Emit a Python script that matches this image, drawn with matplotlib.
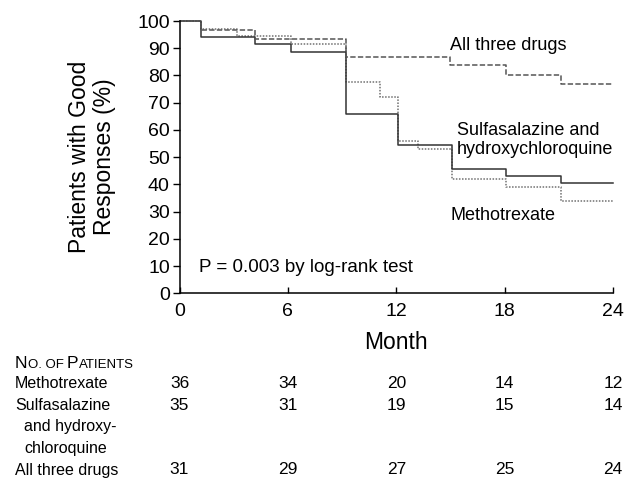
# Kaplan-Meier style curves: patients with good responses by treatment
import numpy as np
from matplotlib import pyplot as plt
from matplotlib import transforms
from matplotlib import font_manager

plt.rcParams["font.family"] = ["Liberation Sans", "DejaVu Sans"]

# ----------------------------------------------------
# Data
# ----------------------------------------------------
mtx_t = [0, 1.2, 3.2, 6.2, 9.2, 11.1, 12.1, 13.2, 15.1, 18.1, 21.1, 24]
mtx_s = [100, 97.2, 94.4, 91.7, 77.7, 72.2, 55.9, 52.9, 41.8, 38.9, 34.0, 34.0]

ssz_t = [0, 1.2, 4.2, 6.2, 9.2, 12.1, 15.1, 18.1, 21.1, 24]
ssz_s = [100, 94.3, 91.6, 88.5, 66.0, 54.4, 45.7, 43.0, 40.5, 40.5]

all_t = [0, 1.2, 4.2, 9.2, 15.0, 18.1, 21.1, 24]
all_s = [100, 96.8, 93.4, 86.7, 84.0, 80.0, 77.0, 77.0]

table_months = [0, 6, 12, 18, 24]
n_mtx = [36, 34, 20, 14, 12]
n_ssz = [35, 31, 19, 15, 14]
n_all = [31, 29, 27, 25, 24]

W, H = 634, 480


def fx(px):
    return px / W


def fy(py):
    return 1 - py / H


# narrow face for the table row labels, if it is there
installed = {f.name for f in font_manager.fontManager.ttflist}
if "Liberation Sans Narrow" in installed:
    row_family, row_size = ["Liberation Sans Narrow"], 13
else:
    row_family, row_size = ["Liberation Sans"], 11.5

# ----------------------------------------------------
# Figure
# ----------------------------------------------------
fig = plt.figure(figsize=(W / 100, H / 100), dpi=100)
ax = fig.add_axes([fx(179.5), fy(293.3), fx(613) - fx(179.5), fy(21) - fy(293.3)])

ax.step(mtx_t, mtx_s, where="post", color="#707070", linestyle=(0, (1, 1)),
        linewidth=1.1, clip_on=False)
ax.step(ssz_t, ssz_s, where="post", color="#333333", linestyle="-",
        linewidth=1.1, clip_on=False)
ax.step(all_t, all_s, where="post", color="#555555", linestyle=(0, (3.5, 1.5)),
        linewidth=1.1, clip_on=False)

ax.set_xlim(0, 24)
ax.set_ylim(0, 100)
ax.set_xticks(table_months)
ax.set_yticks(np.arange(0, 101, 10))
ax.tick_params(axis="y", direction="out", length=5, width=1, pad=2, labelsize=14)
ax.tick_params(axis="x", direction="in", length=4, width=1, pad=7, labelsize=14)
ax.spines["top"].set_visible(False)
ax.spines["right"].set_visible(False)
ax.spines["left"].set_linewidth(1.1)
ax.spines["bottom"].set_linewidth(1.1)

ax.set_xlabel("Month", fontsize=16.5, labelpad=8)
ax.set_ylabel("Patients with Good\nResponses (%)", fontsize=16.5, labelpad=15,
              linespacing=1.15)

# curve labels
fig.text(fx(450), fy(45), "All three drugs", fontsize=13, va="center")
fig.text(fx(457), fy(140), "Sulfasalazine and\nhydroxychloroquine", fontsize=13,
         va="center", linespacing=1.1)
fig.text(fx(450), fy(215), "Methotrexate", fontsize=13, va="center")
fig.text(fx(199), fy(267), "P = 0.003 by log-rank test", fontsize=13.5, va="center")

# ----------------------------------------------------
# Number-at-risk table
# ----------------------------------------------------
renderer = fig.canvas.get_renderer()
x_cur = 15
for piece, size in [("N", 12.5), ("O. OF ", 9.5), ("P", 12.5), ("ATIENTS", 9.5)]:
    t = fig.text(fx(x_cur), fy(368), piece, fontsize=size, va="baseline")
    x_cur += t.get_window_extent(renderer).width

row_labels = [("Methotrexate", 15, 384), ("Sulfasalazine", 15, 405),
              ("and hydroxy-", 24, 427), ("chloroquine", 24, 449),
              ("All three drugs", 15, 470)]
for label, px, py in row_labels:
    fig.text(fx(px), fy(py), label, fontsize=row_size, family=row_family,
             va="center")

trans = transforms.blended_transform_factory(ax.transData, fig.transFigure)
for counts, py in [(n_mtx, 384), (n_ssz, 405), (n_all, 470)]:
    for m, n in zip(table_months, counts):
        fig.text(m, fy(py), str(n), fontsize=12.5, ha="center", va="center",
                 transform=trans)

fig.savefig("out.png", dpi=100)
